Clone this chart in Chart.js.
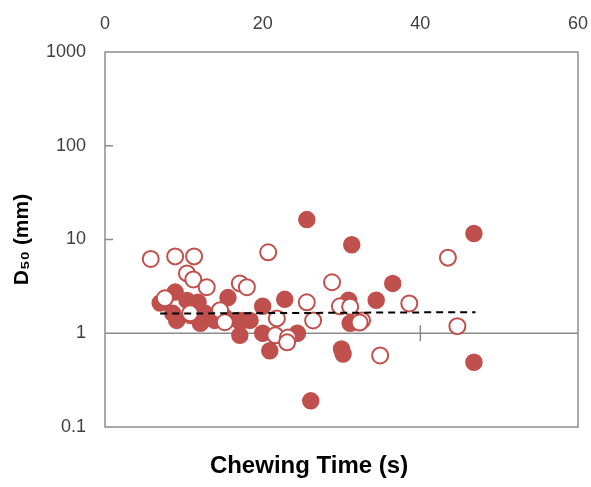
<!DOCTYPE html>
<html>
<head>
<meta charset="utf-8">
<script src="https://cdn.jsdelivr.net/npm/chart.js@4.4.0/dist/chart.umd.min.js"></script>
<style>
    html, body { margin: 0; padding: 0; background: #fff; }
</style>
</head>
<body>
<canvas id="myChart" width="591" height="487"></canvas>
<script>
// Chewing time (s) vs D50 (mm)
const filledX = [25.6, 31.3, 46.8, 36.5, 34.4, 30.9, 31.1, 30.0, 30.2, 46.8, 26.1, 22.8, 20.0, 17.5, 17.1,
                 20.0, 20.9, 24.4, 7.0, 8.9, 10.4, 8.6, 9.1, 11.8, 12.1, 10.8, 12.7, 15.6, 15.2, 16.9, 13.9, 18.4];
const filledY = [16.3, 8.8, 11.6, 3.4, 2.25, 2.25, 1.28, 0.68, 0.60, 0.49, 0.19, 2.3, 1.94, 1.37, 0.95,
                 1.0, 0.65, 1.0, 2.1, 2.75, 2.24, 1.63, 1.37, 2.14, 1.28, 1.55, 1.63, 2.4, 1.48, 1.37, 1.37, 1.37];

const openX = [5.8, 8.9, 11.3, 10.4, 11.2, 12.9, 7.6, 10.8, 14.6, 15.2, 17.1, 18.0, 20.7, 21.8,
               21.6, 23.2, 23.1, 25.6, 26.4, 28.8, 29.8, 31.1, 32.6, 32.3, 38.6, 34.9, 43.5, 44.7];
const openY = [6.2, 6.6, 6.6, 4.35, 3.75, 3.1, 2.36, 1.63, 1.76, 1.31, 3.4, 3.1, 7.3, 1.44,
               0.95, 0.9, 0.8, 2.14, 1.37, 3.5, 1.94, 1.92, 1.37, 1.3, 2.08, 0.58, 6.4, 1.19];

const trendX = [7, 47];
const trendY = [1.62, 1.68];

const xTicks = [0, 20, 40, 60];
const yTicks = [0.1, 1, 10, 100, 1000];

const red = '#C0504D';
const axisGrey = '#8c8c8c';

const toPoints = (xs, ys) => xs.map((x, i) => ({ x: x, y: ys[i] }));

// plot frame, the axis line crossing at y = 1 and the inner tick marks
const frame = {
    id: 'frame',
    beforeDatasetsDraw(chart) {
        const { ctx, chartArea: a, scales: { x, y } } = chart;
        ctx.save();
        ctx.strokeStyle = axisGrey;
        ctx.lineWidth = 1.5;
        ctx.strokeRect(a.left, a.top, a.width, a.height);
        const y1 = y.getPixelForValue(1);
        ctx.beginPath();
        ctx.moveTo(a.left, y1);
        ctx.lineTo(a.right, y1);
        xTicks.slice(1, -1).forEach(v => {
            const px = x.getPixelForValue(v);
            ctx.moveTo(px, y1 - 8);
            ctx.lineTo(px, y1 + 8);
        });
        [10, 100].forEach(v => {
            const py = y.getPixelForValue(v);
            ctx.moveTo(a.left, py);
            ctx.lineTo(a.left + 8, py);
        });
        ctx.stroke();
        ctx.restore();
    },
    afterDraw(chart) {
        const { ctx } = chart;
        ctx.save();
        ctx.font = 'bold 24px "Liberation Sans", Arial, sans-serif';
        ctx.fillStyle = '#000';
        ctx.textAlign = 'center';
        ctx.textBaseline = 'middle';
        ctx.fillText('Chewing Time (s)', 309, 466);
        ctx.restore();
    }
};

const ctx = document.getElementById('myChart').getContext('2d');
new Chart(ctx, {
    type: 'scatter',
    data: {
        datasets: [
            {
                type: 'line',
                label: 'Trend',
                data: toPoints(trendX, trendY),
                borderColor: '#000',
                borderWidth: 2,
                borderDash: [7, 5],
                pointRadius: 0,
                fill: false
            },
            {
                label: 'Open',
                data: toPoints(openX, openY),
                backgroundColor: '#fff',
                borderColor: red,
                borderWidth: 2,
                pointRadius: 8
            },
            {
                label: 'Filled',
                data: toPoints(filledX, filledY),
                backgroundColor: red,
                borderColor: red,
                borderWidth: 1.5,
                pointRadius: 8
            }
        ]
    },
    options: {
        responsive: false,
        animation: false,
        layout: {
            padding: { left: 0, right: 13, top: 0, bottom: 60 }
        },
        scales: {
            x: {
                type: 'linear',
                position: 'top',
                min: 0,
                max: 60,
                afterBuildTicks: scale => { scale.ticks = xTicks.map(v => ({ value: v })); },
                afterFit: scale => {
                    scale.height = 52;
                    scale.paddingLeft = 0;
                    scale.paddingRight = 0;
                },
                ticks: {
                    padding: 17,
                    color: '#404040',
                    font: { family: '"Liberation Sans", Arial, sans-serif', size: 18 }
                },
                grid: { display: false, drawTicks: false },
                border: { display: false }
            },
            y: {
                type: 'logarithmic',
                min: 0.1,
                max: 1000,
                afterBuildTicks: scale => { scale.ticks = yTicks.map(v => ({ value: v })); },
                afterFit: scale => { scale.width = 105; },
                ticks: {
                    padding: 19,
                    color: '#404040',
                    callback: v => String(v),
                    font: { family: '"Liberation Sans", Arial, sans-serif', size: 18 }
                },
                grid: { display: false, drawTicks: false },
                border: { display: false },
                title: {
                    display: true,
                    text: 'D₅₀ (mm)',
                    color: '#000',
                    padding: { top: 10, bottom: 0 },
                    font: { family: '"Liberation Sans", Arial, sans-serif', size: 21, weight: 'bold' }
                }
            }
        },
        plugins: {
            legend: { display: false },
            tooltip: { enabled: false }
        }
    },
    plugins: [frame]
});
</script>
</body>
</html>
